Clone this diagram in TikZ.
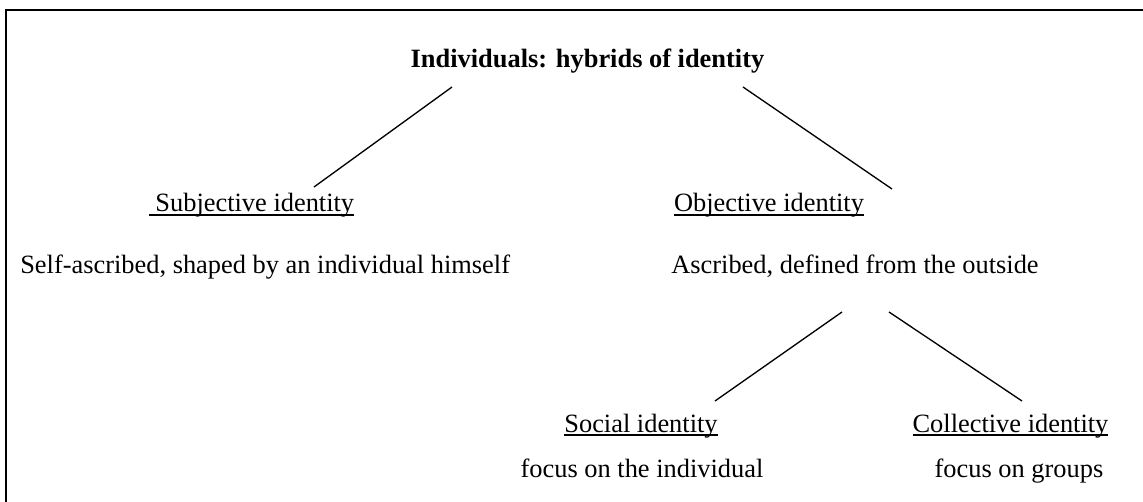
\documentclass[tikz,border=0pt]{standalone}
\usepackage{fontspec}
\setmainfont{Liberation Serif}
\newsavebox\ulbox
\newcommand\ulx[1]{\sbox\ulbox{#1}\rlap{\vrule height -1.6pt depth 2.7pt width \wd\ulbox}\usebox\ulbox}
\tikzset{
  txt/.style={inner sep=0pt, anchor=base, font=\fontsize{19.8pt}{24pt}\selectfont},
  ttl/.style={txt, font=\fontsize{19.8pt}{24pt}\selectfont\bfseries},
  conn/.style={draw=black, line width=1pt},
  frame/.style={draw=black, line width=1.6pt}
}
\begin{document}
\begin{tikzpicture}[x=0.75pt, y=-0.75pt]
\useasboundingbox (0,0) rectangle (1143,502);
% frame (only top and left edges are visible)
\coordinate (fbl) at (6,502);
\coordinate (ftl) at (6,10);
\coordinate (ftr) at (1143,10);
\draw[frame] (fbl) -- (ftl) -- (ftr);

% texts
\node[ttl] (title) at (587.5,68) {Individuals: hybrids of identity};
\node[txt] (subj) at (251.5,212) {\ulx{\ Subjective identity}};
\node[txt] (obj) at (769,212) {\ulx{Objective identity}};
\node[txt, anchor=base west] (selfasc) at (20,274) {Self-ascribed, shaped by an individual himself};
\node[txt] (asc) at (855,274) {Ascribed, defined from the outside};
\node[txt] (soc) at (641,432) {\ulx{Social identity}};
\node[txt] (coll) at (1010.5,432) {\ulx{Collective identity}};
\node[txt] (focind) at (642,477) {focus on the individual};
\node[txt] (focgrp) at (1019,477) {focus on groups};

% connector end points
\coordinate (t1a) at (452,87);
\coordinate (t1b) at (314,187);
\coordinate (t2a) at (743,87);
\coordinate (t2b) at (892,189);
\coordinate (o1a) at (842,312);
\coordinate (o1b) at (715,401);
\coordinate (o2a) at (889,312);
\coordinate (o2b) at (1022,401);

\draw[conn] (t1a) -- (t1b);
\draw[conn] (t2a) -- (t2b);
\draw[conn] (o1a) -- (o1b);
\draw[conn] (o2a) -- (o2b);
\end{tikzpicture}
\end{document}
